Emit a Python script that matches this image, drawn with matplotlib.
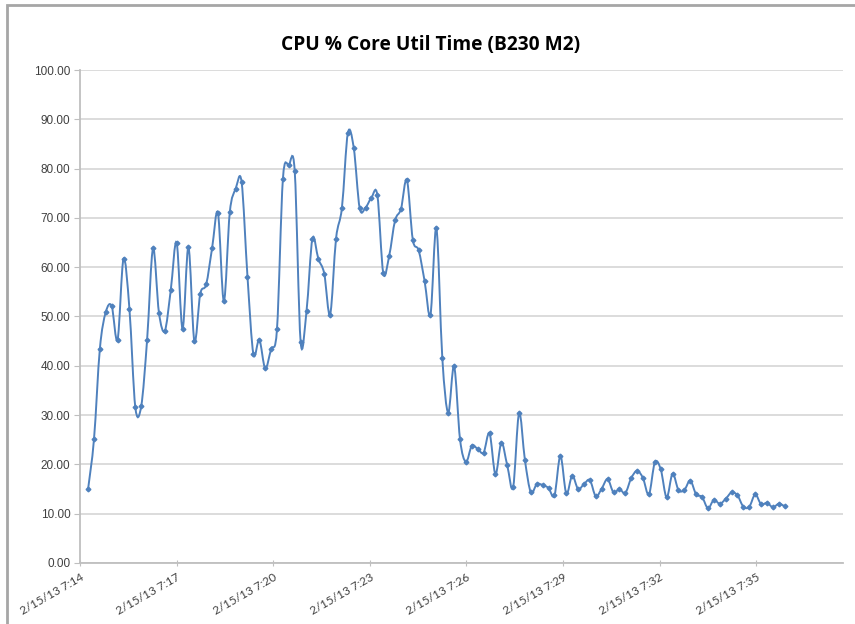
import matplotlib
matplotlib.use("Agg")
import matplotlib.pyplot as plt
import matplotlib.dates as mdates
from matplotlib.path import Path
from matplotlib.patches import PathPatch, Rectangle
from datetime import datetime, timedelta

# sampled every ~11 s starting at 7:14:15
start = datetime(2013, 2, 15, 7, 14, 15)
step_s = 11
cpu = [15.0, 25.1, 43.5, 50.9, 52.1, 45.3, 61.7, 51.6, 31.6, 31.8,
       45.3, 63.8, 50.8, 47.1, 55.3, 65.0, 47.5, 64.1, 45.0, 54.6,
       56.5, 63.8, 71.0, 53.1, 71.1, 75.9, 77.3, 58.1, 42.4, 45.3,
       39.5, 43.4, 47.5, 77.9, 80.7, 79.5, 44.9, 51.1, 65.8, 61.7,
       58.7, 50.4, 65.8, 72.1, 87.2, 84.2, 72.0, 72.1, 74.1, 74.6,
       58.8, 62.3, 69.5, 71.8, 77.7, 65.6, 63.4, 57.2, 50.4, 67.9,
       41.6, 30.5, 39.9, 25.1, 20.5, 23.8, 23.1, 22.4, 26.3, 18.0,
       24.4, 19.8, 15.4, 30.4, 20.8, 14.3, 16.0, 15.8, 15.2, 13.7,
       21.7, 14.1, 17.7, 15.0, 16.0, 16.8, 13.5, 15.1, 17.0, 14.3,
       15.0, 14.2, 17.2, 18.7, 17.2, 13.9, 20.4, 19.0, 13.3, 18.1,
       14.8, 14.8, 16.7, 13.9, 13.4, 11.1, 12.8, 12.0, 13.0, 14.3,
       13.7, 11.4, 11.4, 13.9, 11.9, 12.2, 11.3, 12.0, 11.5]
times = [start + timedelta(seconds=step_s * i) for i in range(len(cpu))]
tick_times = [datetime(2013, 2, 15, 7, m) for m in range(14, 36, 3)]
tick_labels = ["2/15/13 7:%02d" % t.minute for t in tick_times]
y_ticks = list(range(0, 101, 10))

blue = "#4f81bd"
txt = "#404040"

fig = plt.figure(figsize=(8.55, 6.24), dpi=100)
ax = fig.add_axes([0.0936, 0.0978, 0.892, 0.79])

# excel style smoothed line: cubic bezier through the points
xs = mdates.date2num(times)
verts = [(xs[0], cpu[0])]
codes = [Path.MOVETO]
n = len(cpu)
for i in range(n - 1):
    x0, y0 = (xs[i - 1], cpu[i - 1]) if i > 0 else (xs[i], cpu[i])
    x1, y1 = xs[i], cpu[i]
    x2, y2 = xs[i + 1], cpu[i + 1]
    x3, y3 = (xs[i + 2], cpu[i + 2]) if i + 2 < n else (x2, y2)
    verts += [(x1 + (x2 - x0) / 6, y1 + (y2 - y0) / 6),
              (x2 - (x3 - x1) / 6, y2 - (y3 - y1) / 6),
              (x2, y2)]
    codes += [Path.CURVE4] * 3
ax.add_patch(PathPatch(Path(verts, codes), fill=False, edgecolor=blue, lw=1.4, zorder=3))
ax.plot(times, cpu, ls="none", marker="D", ms=2.4, color=blue, zorder=4)

ax.set_ylim(0, 100)
ax.set_xlim(datetime(2013, 2, 15, 7, 14), datetime(2013, 2, 15, 7, 37, 41))
ax.set_yticks(y_ticks)
ax.set_yticklabels(["%.2f" % v for v in y_ticks], fontsize=8.5, color=txt, family="Liberation Sans")
ax.set_xticks(tick_times)
ax.set_xticklabels(tick_labels, rotation=30, ha="right", va="top", rotation_mode="anchor",
                   fontsize=8.5, color=txt, family="Lato")
ax.grid(axis="y", color="#d9d9d9", lw=1.3)
ax.set_axisbelow(True)
for s in ["top", "right"]:
    ax.spines[s].set_visible(False)
for s in ["left", "bottom"]:
    ax.spines[s].set_color("#bfbfbf")
    ax.spines[s].set_linewidth(1.3)
ax.tick_params(axis="y", length=4, color="#bfbfbf", pad=3)
ax.tick_params(axis="x", length=4, color="#bfbfbf", direction="inout", pad=4)

fig.text(0.503, 0.928, "CPU % Core Util Time (B230 M2)", ha="center", va="center",
         fontsize=13.8, fontweight="bold", family="Open Sans", color="#000000")

# chart area border, cut off on the right and bottom
fig.patches.append(Rectangle((7 / 855, -0.1), 1.1, 1.1 - 5 / 624,
                             transform=fig.transFigure, fill=False,
                             edgecolor="#a6a6a6", lw=2))

fig.savefig("out.png", dpi=100)
